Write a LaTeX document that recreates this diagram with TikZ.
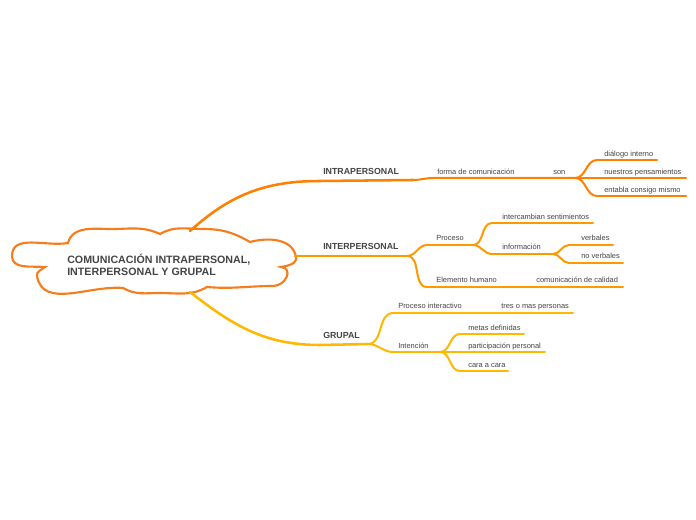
\documentclass[tikz,border=0pt]{standalone}
\usepackage{fontspec}
\setmainfont{Liberation Sans}
\usepackage{tikz}
\definecolor{cloudrim}{RGB}{245,125,30}
\definecolor{intra}{RGB}{255,128,0}
\definecolor{inter}{RGB}{255,153,0}
\definecolor{grupo}{RGB}{255,184,0}
\definecolor{ink}{RGB}{68,68,68}
\tikzset{
  leaf/.style={anchor=base west, inner sep=0pt, text=ink, font=\fontsize{5.6}{6.5}\selectfont},
  topic/.style={anchor=base west, inner sep=0pt, text=ink, font=\bfseries\fontsize{6.6}{7.5}\selectfont},
  limb/.style={line width=1.9pt, line cap=round},
  twig/.style={line width=1.5pt, line cap=round}
}
\newcommand{\fork}[3]{\draw[twig,#1] (#2) to[out=0,in=180] (#3);}

\begin{document}
\begin{tikzpicture}[x=0.75pt,y=0.75pt]
\useasboundingbox (0,0) rectangle (696,-520);
\fill[white] (0,0) rectangle (696,-520);
% nube central
\draw[line width=1.6pt, cloudrim, fill=white] (68,-243) to[out=75,in=180] (112,-229) to[out=0,in=155] (160,-234)
  to[out=30,in=180] (203,-229) to[out=0,in=150] (250,-242) to[out=15,in=100] (296,-257) to[out=-80,in=10] (281,-267)
  to[out=-5,in=0,looseness=1.6] (273,-286) to[out=180,in=-5] (207,-287) to[out=-150,in=0] (160,-293)
  to[out=180,in=-30] (123,-288) to[out=175,in=-80] (37,-276) to[out=100,in=-140] (45,-267)
  to[out=175,in=-90] (12,-256) to[out=90,in=-170] cycle;
\node[anchor=base west, inner sep=0pt, align=left, text=ink, font=\bfseries\fontsize{8}{9.4}\selectfont] (hub) at (67,-276) {COMUNICACIÓN INTRAPERSONAL,\\INTERPERSONAL Y GRUPAL};
\coordinate (hubN) at (190,-231);
\coordinate (hubE) at (295,-256);
\coordinate (hubS) at (190,-292);

% intrapersonal
\coordinate (intraA) at (320,-181);
\coordinate (intraF) at (413,-180);
\coordinate (formaA) at (433,-178);
\coordinate (sonF) at (575,-178);
\coordinate (dialA) at (597,-160);
\coordinate (dialB) at (657,-160);
\coordinate (nuesB) at (686,-178);
\coordinate (entaA) at (597,-196);
\coordinate (entaB) at (686,-196);
\draw[limb,intra] (hubN) to[out=42,in=180] (intraA) -- (intraF);
\draw[twig,intra] (intraF) to[out=0,in=180] (formaA) -- (sonF);
\fork{intra}{sonF}{dialA}
\draw[twig,intra] (dialA) -- (dialB);
\draw[twig,intra] (sonF) -- (nuesB);
\fork{intra}{sonF}{entaA}
\draw[twig,intra] (entaA) -- (entaB);
\node[topic] (intraL) at (323,-175) {INTRAPERSONAL};
\node[leaf] (formaL) at (437,-175) {forma de comunicación};
\node[leaf] (sonL) at (553,-175) {son};
\node[leaf] (dialL) at (604,-157) {diálogo interno};
\node[leaf] (nuesL) at (604,-175) {nuestros pensamientos};
\node[leaf] (entaL) at (604,-193) {entabla consigo mismo};

% interpersonal
\coordinate (interF) at (407,-256);
\coordinate (procA) at (427,-245);
\coordinate (procF) at (473,-245);
\coordinate (elemA) at (427,-287);
\coordinate (elemB) at (623,-287);
\coordinate (intcA) at (492,-223);
\coordinate (intcB) at (593,-223);
\coordinate (infoA) at (492,-254);
\coordinate (infoF) at (553,-254);
\coordinate (verbA) at (569,-245);
\coordinate (verbB) at (613,-245);
\coordinate (noveA) at (569,-263);
\coordinate (noveB) at (623,-263);
\draw[limb,inter] (hubE) -- (interF);
\fork{inter}{interF}{procA}
\draw[twig,inter] (procA) -- (procF);
\fork{inter}{interF}{elemA}
\draw[twig,inter] (elemA) -- (elemB);
\fork{inter}{procF}{intcA}
\draw[twig,inter] (intcA) -- (intcB);
\fork{inter}{procF}{infoA}
\draw[twig,inter] (infoA) -- (infoF);
\fork{inter}{infoF}{verbA}
\draw[twig,inter] (verbA) -- (verbB);
\fork{inter}{infoF}{noveA}
\draw[twig,inter] (noveA) -- (noveB);
\node[topic] (interL) at (323,-250) {INTERPERSONAL};
\node[leaf] (procL) at (436,-241) {Proceso};
\node[leaf] (intcL) at (502,-220) {intercambian sentimientos};
\node[leaf] (infoL) at (502,-250) {información};
\node[leaf] (verbL) at (581,-241) {verbales};
\node[leaf] (noveL) at (581,-259) {no verbales};
\node[leaf] (elemL) at (436,-283) {Elemento humano};
\node[leaf] (caliL) at (536,-283) {comunicación de calidad};

% grupal
\coordinate (grupA) at (320,-345);
\coordinate (grupF) at (368,-344);
\coordinate (pintA) at (393,-313);
\coordinate (pintB) at (573,-313);
\coordinate (intnA) at (393,-352);
\coordinate (intnF) at (440,-352);
\coordinate (metaA) at (460,-334);
\coordinate (metaB) at (524,-334);
\coordinate (partB) at (545,-352);
\coordinate (caraA) at (460,-371);
\coordinate (caraB) at (508,-371);
\draw[limb,grupo] (hubS) to[out=-38,in=180] (grupA) -- (grupF);
\fork{grupo}{grupF}{pintA}
\draw[twig,grupo] (pintA) -- (pintB);
\fork{grupo}{grupF}{intnA}
\draw[twig,grupo] (intnA) -- (intnF);
\fork{grupo}{intnF}{metaA}
\draw[twig,grupo] (metaA) -- (metaB);
\draw[twig,grupo] (intnF) -- (partB);
\fork{grupo}{intnF}{caraA}
\draw[twig,grupo] (caraA) -- (caraB);
\node[topic] (grupL) at (323,-339) {GRUPAL};
\node[leaf] (pintL) at (398,-309) {Proceso interactivo};
\node[leaf] (tresL) at (501,-309) {tres o mas personas};
\node[leaf] (intnL) at (398,-348) {Intención};
\node[leaf] (metaL) at (468,-330) {metas definidas};
\node[leaf] (partL) at (468,-348) {participación personal};
\node[leaf] (caraL) at (468,-367) {cara a cara};
\end{tikzpicture}
\end{document}
